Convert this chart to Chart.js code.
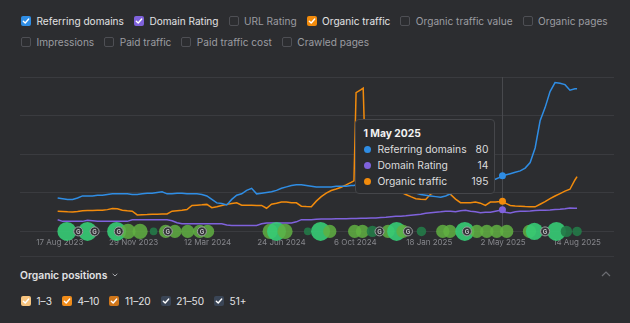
<!DOCTYPE html>
<html>
<head>
<meta charset="utf-8">
<script src="https://cdn.jsdelivr.net/npm/chart.js@4.4.1/dist/chart.umd.min.js"></script>
<style>
  html, body { margin: 0; padding: 0; }
  body {
    width: 630px; height: 323px; overflow: hidden; position: relative;
    background: #2c2d30; font-family: Inter, "Noto Sans", sans-serif;
  }
  .row { position: absolute; left: 21px; height: 14px; display: flex; align-items: center; font-size: 10.1px; }
  .item { display: flex; align-items: center; margin-right: 10px; color: #9b9ca1; white-space: nowrap; }
  .item.on { color: #e2e2e4; }
  .box {
    width: 10px; height: 10px; box-sizing: border-box; border-radius: 2px;
    border: 1px solid #4e4f54; margin-right: 5.5px;
    display: flex; align-items: center; justify-content: center;
  }
  .box.on { border: none; }
  .box svg { width: 8px; height: 8px; }
  #chart { position: absolute; left: 0; top: 60px; }
  #sep { position: absolute; left: 20px; top: 256px; width: 594px; height: 1px; background: #38393d; }
  #posTitle { position: absolute; left: 20px; top: 268px; height: 14px; display: flex; align-items: center;
    font-size: 10.3px; font-weight: 600; color: #e2e2e4; }
  #posTitle svg { margin-left: 5px; }
  #collapse { position: absolute; left: 601px; top: 271px; }
  #tip {
    position: absolute; display: none; width: 140px; box-sizing: border-box;
    background: #2b2c2f; border: 1px solid #45464a; border-radius: 4px;
    padding: 5px 6px 4px 7px; font-size: 10.3px; color: #dcdcde;
  }
  #tip .tt { font-weight: 700; color: #f2f2f2; height: 16px; line-height: 16px; }
  #tip .tr { display: flex; align-items: center; height: 16px; }
  #tip .dot { width: 7px; height: 7px; border-radius: 50%; margin: 0 6.5px 0 0.5px; }
  #tip .tv { margin-left: auto; }
</style>
</head>
<body>
<div id="row1" class="row" style="top:13.5px"></div>
<div id="row2" class="row" style="top:35px"></div>
<canvas id="chart" width="630" height="200"></canvas>
<div id="sep"></div>
<div id="posTitle">Organic positions
  <svg width="6" height="4" viewBox="0 0 6 4"><path d="M0.7 0.8 L3 3 L5.3 0.8" fill="none" stroke="#a9aaae" stroke-width="1"/></svg>
</div>
<svg id="collapse" width="10" height="6" viewBox="0 0 10 6"><path d="M1 5 L5 1 L9 5" fill="none" stroke="#6c6d72" stroke-width="1.2"/></svg>
<div id="row3" class="row" style="top:294px"></div>
<div id="tip"></div>
<script>
// Metrics shown in the legend
const metricsRow1 = ['Referring domains', 'Domain Rating', 'URL Rating', 'Organic traffic', 'Organic traffic value', 'Organic pages'];
const metricsRow2 = ['Impressions', 'Paid traffic', 'Paid traffic cost', 'Crawled pages'];
const activeMetrics = ['Referring domains', 'Domain Rating', 'Organic traffic'];
const positionBuckets = ['1–3', '4–10', '11–20', '21–50', '51+'];

// Weekly history
const dates = [
    '2023-08-14', '2023-08-21', '2023-08-28', '2023-09-04', '2023-09-11', '2023-09-18', '2023-09-25', '2023-10-02',
    '2023-10-09', '2023-10-16', '2023-10-23', '2023-10-30', '2023-11-06', '2023-11-13', '2023-11-20', '2023-11-27',
    '2023-12-04', '2023-12-11', '2023-12-18', '2023-12-25', '2024-01-01', '2024-01-08', '2024-01-15', '2024-01-22',
    '2024-01-29', '2024-02-05', '2024-02-12', '2024-02-19', '2024-02-26', '2024-03-04', '2024-03-11', '2024-03-18',
    '2024-03-25', '2024-04-01', '2024-04-08', '2024-04-15', '2024-04-22', '2024-04-29', '2024-05-06', '2024-05-13',
    '2024-05-20', '2024-05-27', '2024-06-03', '2024-06-10', '2024-06-17', '2024-06-24', '2024-07-01', '2024-07-08',
    '2024-07-15', '2024-07-22', '2024-07-29', '2024-08-05', '2024-08-12', '2024-08-19', '2024-08-26', '2024-09-02',
    '2024-09-09', '2024-09-16', '2024-09-23', '2024-09-30', '2024-10-04', '2024-10-07', '2024-10-14', '2024-10-17',
    '2024-10-21', '2024-10-28', '2024-11-04', '2024-11-11', '2024-11-18', '2024-11-25', '2024-12-02', '2024-12-09',
    '2024-12-16', '2024-12-23', '2024-12-30', '2025-01-06', '2025-01-13', '2025-01-20', '2025-01-27', '2025-02-03',
    '2025-02-10', '2025-02-17', '2025-02-24', '2025-03-03', '2025-03-10', '2025-03-17', '2025-03-24', '2025-03-31',
    '2025-04-07', '2025-04-14', '2025-04-21', '2025-04-28', '2025-05-01', '2025-05-05', '2025-05-12', '2025-05-19',
    '2025-05-26', '2025-06-02', '2025-06-09', '2025-06-16', '2025-06-23', '2025-06-30', '2025-07-07', '2025-07-14',
    '2025-07-21', '2025-07-28', '2025-08-04', '2025-08-11', '2025-08-14'
];
const referringDomains = [
    48, 47, 46, 46, 48, 51, 51, 51, 52, 52, 53, 54, 54, 54, 54, 53,
    53, 54, 55, 55, 56, 57, 54, 54, 55, 55, 54, 54, 54, 53, 51, 46,
    41, 40, 38, 46, 52, 54, 59, 62, 54, 55, 56, 57, 59, 62, 64, 66,
    67, 67, 66, 65, 64, 64, 64, 64, 65, 65, 65, 66, 66, 67, 67, 67,
    67, 67, 67, 66, 65, 64, 62, 61, 59, 57, 55, 53, 52, 51, 50, 49,
    51, 54, 57, 59, 62, 64, 66, 68, 70, 73, 75, 78, 80, 81, 83, 85,
    87, 91, 99, 120, 159, 178, 201, 214, 213, 211, 203, 205, 205
];
const domainRating = [
    7.6, 6.5, 6.5, 6.5, 6.5, 6.5, 7.2, 6.9, 6.5, 6.5, 6.5, 6.5, 6.5, 6.5, 6.5, 7.5,
    7.5, 7.5, 7.5, 7.5, 7.5, 7.5, 7.5, 6.9, 5.6, 5.0, 5.0, 5.0, 5.0, 5.0, 5.0, 5.0,
    5.0, 4.9, 4.1, 3.9, 3.9, 3.9, 3.9, 3.9, 3.9, 4.9, 5.4, 5.4, 5.4, 5.4, 5.4, 5.4,
    6.2, 7.6, 7.6, 7.6, 7.8, 8.0, 8.0, 8.0, 8.2, 8.2, 8.2, 8.3, 8.3, 8.4, 8.5, 8.5,
    8.5, 8.6, 8.7, 9.0, 9.2, 9.5, 9.8, 9.8, 10.1, 10.5, 10.8, 11.1, 11.8, 12.1, 12.4, 12.7,
    13.1, 13.1, 12.7, 13.4, 13.7, 13.1, 12.7, 12.1, 12.4, 12.4, 13.1, 13.7, 14, 12.4, 12.0, 12.7,
    13.1, 13.1, 13.2, 13.5, 13.7, 13.7, 13.9, 14.2, 14.4, 14.7, 15.2, 15.0, 15.0
];
const organicTraffic = [
    131, 129, 127, 126, 129, 134, 135, 135, 137, 137, 141, 148, 147, 137, 133, 131,
    107, 108, 109, 111, 111, 113, 113, 131, 134, 137, 142, 168, 170, 172, 175, 154,
    160, 168, 175, 180, 185, 170, 170, 170, 168, 168, 150, 176, 183, 191, 190, 186,
    185, 163, 161, 160, 196, 225, 248, 265, 275, 286, 301, 317, 327, 899, 918, 928,
    307, 301, 294, 288, 284, 278, 268, 255, 239, 225, 212, 209, 207, 242, 255, 255,
    248, 239, 209, 186, 185, 186, 190, 183, 168, 190, 190, 193, 195, 183, 168, 165,
    163, 161, 160, 159, 176, 193, 212, 229, 245, 261, 273, 333, 355
];
const tickDates = ['2023-08-17', '2023-11-29', '2024-03-12', '2024-06-24', '2024-10-06', '2025-01-18', '2025-05-02', '2025-08-14'];
const hoverDate = '2025-05-01';

// Organic position changes shown along the bottom of the plot
const markerDates = [
    '2023-08-27', '2023-09-25', '2023-11-05', '2023-11-21', '2023-12-08', '2023-12-27', '2024-01-13', '2024-01-26',
    '2024-02-13', '2024-03-01', '2024-03-12', '2024-06-08', '2024-06-17', '2024-06-29', '2024-07-31', '2024-08-18',
    '2024-08-31', '2024-10-05', '2024-10-16', '2024-10-30', '2024-11-21', '2024-12-03', '2024-12-12', '2025-01-07',
    '2025-02-06', '2025-02-16', '2025-03-09', '2025-03-26', '2025-04-09', '2025-04-23', '2025-05-07', '2025-06-08',
    '2025-06-15', '2025-07-16', '2025-07-30', '2025-08-14'
];
const markerKinds = [
    'top', 'top', 'top', 'mid', 'mid', 'low', 'mid', 'mid', 'mid', 'mid', 'mid', 'mid', 'top', 'mid', 'low', 'top',
    'mid', 'mid', 'mid', 'low', 'mid', 'top', 'mid', 'low', 'mid', 'mid', 'top', 'mid', 'mid', 'mid', 'mid', 'mid',
    'top', 'top', 'low', 'low'
];
const markerWeights = [
    10, 10, 10, 8, 8, 4, 7, 7, 7, 7, 7, 8, 10, 8, 4, 10,
    7, 7, 7, 6, 7, 10, 7, 5, 7, 7, 10, 7, 7, 7, 7, 7,
    9, 10, 6, 5
];
const googleUpdates = ['2023-09-12', '2023-10-05', '2023-11-08', '2024-01-16', '2024-03-04', '2024-11-09', '2024-12-19', '2025-03-12', '2025-06-30'];

const colors = {
    'Referring domains': '#2f8de4',
    'Domain Rating': '#7f62dc',
    'Organic traffic': '#f28b0c'
};
const bucketColors = ['#f7c47f', '#f08c1a', '#cf761a', '#3a4556', '#3a4556'];
const markerColors = { top: 'rgba(54, 204, 118, 0.9)', mid: 'rgba(96, 176, 66, 0.85)', low: 'rgba(36, 122, 72, 0.9)' };
const monthNames = ['Jan', 'Feb', 'Mar', 'Apr', 'May', 'Jun', 'Jul', 'Aug', 'Sep', 'Oct', 'Nov', 'Dec'];

const toTime = d => Date.parse(d + 'T00:00:00Z');
function formatDate(t) {
    const d = new Date(t);
    return `${d.getUTCDate()} ${monthNames[d.getUTCMonth()]} ${d.getUTCFullYear()}`;
}

const checkSvg = '<svg viewBox="0 0 8 8"><path d="M1.3 4.2 L3.2 6 L6.7 2" fill="none" stroke="#fff" stroke-width="1.4" stroke-linecap="round" stroke-linejoin="round"/></svg>';
function addItem(rowId, label, color) {
    const item = document.createElement('div');
    item.className = 'item' + (color ? ' on' : '');
    const box = color ? `<span class="box on" style="background:${color}">${checkSvg}</span>` : '<span class="box"></span>';
    item.innerHTML = box + label;
    document.getElementById(rowId).appendChild(item);
}
metricsRow1.forEach(m => addItem('row1', m, activeMetrics.includes(m) ? colors[m] : null));
metricsRow2.forEach(m => addItem('row2', m, null));
positionBuckets.forEach((b, i) => addItem('row3', b, bucketColors[i]));

function lineSet(label, values, axis) {
    return {
        type: 'line',
        label: label,
        data: dates.map((d, i) => ({ x: toTime(d), y: values[i] })),
        yAxisID: axis,
        borderColor: colors[label],
        backgroundColor: colors[label],
        borderWidth: 1.5,
        pointRadius: 0,
        pointHoverRadius: 3.5,
        pointHoverBorderWidth: 0,
        pointHoverBackgroundColor: colors[label],
        tension: 0,
        order: 0
    };
}

function externalTooltip(context) {
    const { chart, tooltip } = context;
    const el = document.getElementById('tip');
    if (tooltip.opacity === 0 || !tooltip.dataPoints) { el.style.display = 'none'; return; }
    const points = tooltip.dataPoints.filter(p => p.datasetIndex < 3);
    let html = `<div class="tt">${formatDate(points[0].parsed.x)}</div>`;
    points.forEach(p => {
        html += `<div class="tr"><span class="dot" style="background:${p.dataset.borderColor}"></span>` +
            `<span>${p.dataset.label}</span><span class="tv">${Math.round(p.parsed.y)}</span></div>`;
    });
    el.innerHTML = html;
    el.style.display = 'block';
    el.style.left = (chart.canvas.offsetLeft + tooltip.caretX - 7 - el.offsetWidth) + 'px';
    el.style.top = (chart.canvas.offsetTop + chart.chartArea.top + 42) + 'px';
}

// vertical line at the hovered date
const crosshair = {
    id: 'crosshair',
    beforeDatasetsDraw(chart) {
        const active = chart.tooltip.getActiveElements();
        if (!active.length) return;
        const x = Math.round(active[0].element.x) + 0.5;
        const { top, bottom } = chart.chartArea;
        const ctx = chart.ctx;
        ctx.save();
        ctx.strokeStyle = '#48494d';
        ctx.lineWidth = 1;
        ctx.beginPath();
        ctx.moveTo(x, top);
        ctx.lineTo(x, bottom + 4);
        ctx.stroke();
        ctx.restore();
    }
};

// "G" letter on the Google update badges
const googleBadges = {
    id: 'googleBadges',
    afterDatasetsDraw(chart) {
        const meta = chart.getDatasetMeta(4);
        const ctx = chart.ctx;
        ctx.save();
        ctx.fillStyle = '#c4c5c9';
        ctx.font = 'bold 6px Inter';
        ctx.textAlign = 'center';
        ctx.textBaseline = 'middle';
        meta.data.forEach(pt => ctx.fillText('G', pt.x, pt.y + 0.5));
        ctx.restore();
    }
};

Chart.defaults.font.family = 'Inter';

const chart = new Chart(document.getElementById('chart'), {
    type: 'line',
    data: {
        datasets: [
            lineSet('Referring domains', referringDomains, 'yRD'),
            lineSet('Domain Rating', domainRating, 'yDR'),
            lineSet('Organic traffic', organicTraffic, 'yOT'),
            {
                type: 'bubble',
                label: 'Positions',
                data: markerDates.map((d, i) => ({ x: toTime(d), y: 0, r: markerWeights[i] * 0.95 })),
                yAxisID: 'yM',
                backgroundColor: markerKinds.map(k => markerColors[k]),
                borderWidth: 0,
                hoverRadius: 0,
                clip: false,
                order: -1
            },
            {
                type: 'bubble',
                label: 'Google updates',
                data: googleUpdates.map(d => ({ x: toTime(d), y: 0, r: 4.5 })),
                yAxisID: 'yM',
                backgroundColor: '#333437',
                borderColor: '#9d9ea2',
                borderWidth: 1,
                hoverRadius: 0,
                clip: false,
                order: -2
            }
        ]
    },
    options: {
        responsive: false,
        animation: false,
        events: [],
        layout: { padding: { left: 20, right: 16, top: 17, bottom: 7 } },
        plugins: {
            legend: { display: false },
            tooltip: { enabled: false, external: externalTooltip, filter: item => item.datasetIndex < 3 }
        },
        scales: {
            x: {
                type: 'linear',
                min: toTime('2023-06-22'),
                max: toTime('2025-10-05'),
                grid: { display: false, drawTicks: false },
                border: { display: false },
                afterBuildTicks: scale => { scale.ticks = tickDates.map(d => ({ value: toTime(d) })); },
                ticks: {
                    color: '#85868b',
                    font: { size: 8 },
                    padding: 6,
                    maxRotation: 0,
                    autoSkip: false,
                    callback: value => formatDate(value)
                }
            },
            yGrid: {
                position: 'left',
                min: 0, max: 4,
                ticks: { display: false, stepSize: 1 },
                grid: { color: '#3a3b3f', drawTicks: false },
                border: { display: false }
            },
            yRD: { display: false, min: 0, max: 222 },
            yDR: { display: false, min: 0, max: 100 },
            yOT: { display: false, min: 0, max: 1000 },
            yM: { display: false, min: 0, max: 10 }
        }
    },
    plugins: [crosshair, googleBadges]
});

const hoverIndex = dates.indexOf(hoverDate);
const active = [0, 1, 2].map(i => ({ datasetIndex: i, index: hoverIndex }));
chart.setActiveElements(active);
chart.tooltip.setActiveElements(active, { x: 0, y: 0 });
chart.update();
</script>
</body>
</html>
